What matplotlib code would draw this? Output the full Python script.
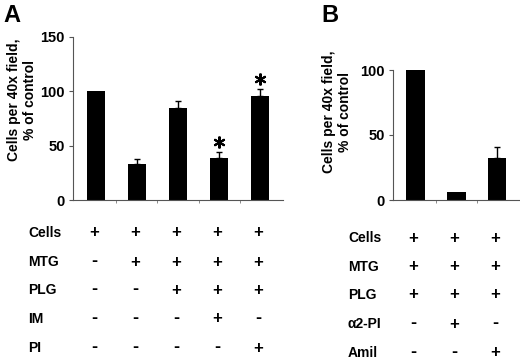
import matplotlib

matplotlib.use("Agg")

import matplotlib.pyplot as plt
import numpy as np
from matplotlib.transforms import blended_transform_factory

plt.rcParams["font.family"] = ["Liberation Sans", "DejaVu Sans"]
plt.rcParams["font.weight"] = "bold"

# panel A
values_a = [100, 33, 85, 38.5, 96]
errors_a = [0, 5, 6.5, 5.5, 6.5]
stars_a = [False, False, False, True, True]
row_labels_a = ["Cells", "MTG", "PLG", "IM", "PI"]
signs_a = [
    ["+", "+", "+", "+", "+"],
    ["-", "+", "+", "+", "+"],
    ["-", "-", "+", "+", "+"],
    ["-", "-", "-", "+", "-"],
    ["-", "-", "-", "-", "+"],
]
yticks_a = [0, 50, 100, 150]

# panel B
values_b = [100, 6, 32]
errors_b = [0, 0, 9]
row_labels_b = ["Cells", "MTG", "PLG", "α2-PI", "Amil"]
signs_b = [
    ["+", "+", "+"],
    ["+", "+", "+"],
    ["+", "+", "+"],
    ["-", "+", "-"],
    ["-", "-", "+"],
]
yticks_b = [0, 50, 100]

W, H = 520, 361
YLABEL = "Cells per 40x field,\n% of control"


def px_axes(fig, left, top, right, bottom):
    return fig.add_axes([left / W, 1 - bottom / H, (right - left) / W, (bottom - top) / H])


def style_axes(ax, n):
    for side in ("top", "right"):
        ax.spines[side].set_visible(False)
    for side in ("left", "bottom"):
        ax.spines[side].set_color("#555555")
        ax.spines[side].set_linewidth(0.8)
    ax.set_xticks([])
    ax.set_xticks(np.arange(n - 1) + 0.5, minor=True)
    ax.tick_params(axis="x", which="minor", length=2.5, width=0.6, color="#777777")
    ax.tick_params(axis="y", length=3, width=0.8, color="#555555", labelsize=10.5, pad=3)


def draw_bars(ax, values, errors):
    x = np.arange(len(values))
    ax.bar(x, values, width=0.46, color="black", zorder=2)
    err = np.array(errors, dtype=float)
    mask = err > 0
    ax.errorbar(x[mask], np.array(values)[mask], yerr=[np.zeros(mask.sum()), err[mask]],
                fmt="none", ecolor="black", elinewidth=1.0, capsize=2, capthick=1.0, zorder=1)
    return x


def draw_table(fig, ax, labels, signs, label_x, row_y):
    trans = blended_transform_factory(ax.transData, fig.transFigure)
    for r, label in enumerate(labels):
        y = 1 - row_y[r] / H
        fig.text(label_x / W, y, label, ha="left", va="center", fontsize=10)
        for c, s in enumerate(signs[r]):
            if s == "+":
                fig.text(c - 0.05, y, s, transform=trans, ha="center", va="center", fontsize=12)
            else:
                fig.text(c - 0.05, y + 0.002, s, transform=trans, ha="center", va="center",
                         fontsize=13)


fig = plt.figure(figsize=(W / 100, H / 100), dpi=100)

# ---- A ----
ax_a = px_axes(fig, 73, 37, 283, 200)
x_a = draw_bars(ax_a, values_a, errors_a)
ax_a.set_xlim(-0.56, 4.56)
ax_a.set_ylim(0, 150)
ax_a.set_yticks(yticks_a)
style_axes(ax_a, len(values_a))
for xi, v, e, s in zip(x_a, values_a, errors_a, stars_a):
    if s:
        ax_a.plot(xi, v + e + 9, marker=(6, 2, 0), ms=8.5, mew=1.5, color="black", clip_on=False)
fig.text(22 / W, 1 - 100 / H, YLABEL, rotation=90, ha="center", va="center",
         fontsize=10, linespacing=1.1)
fig.text(3 / W, 1 - 16 / H, "A", fontsize=17, va="center", ha="left")
draw_table(fig, ax_a, row_labels_a, signs_a, 28, [233, 262, 290, 319, 348])

# ---- B ----
ax_b = px_axes(fig, 393, 70, 520, 200)
draw_bars(ax_b, values_b, errors_b)
ax_b.set_xlim(-0.54, 2.56)
ax_b.set_ylim(0, 100)
ax_b.set_yticks(yticks_b)
style_axes(ax_b, len(values_b))
fig.text(337 / W, 1 - 112 / H, YLABEL, rotation=90, ha="center", va="center",
         fontsize=10, linespacing=1.1)
fig.text(321 / W, 1 - 16 / H, "B", fontsize=17, va="center", ha="left")
draw_table(fig, ax_b, row_labels_b, signs_b, 348, [238, 267, 295, 324, 353])

fig.savefig("out.png", dpi=100)
